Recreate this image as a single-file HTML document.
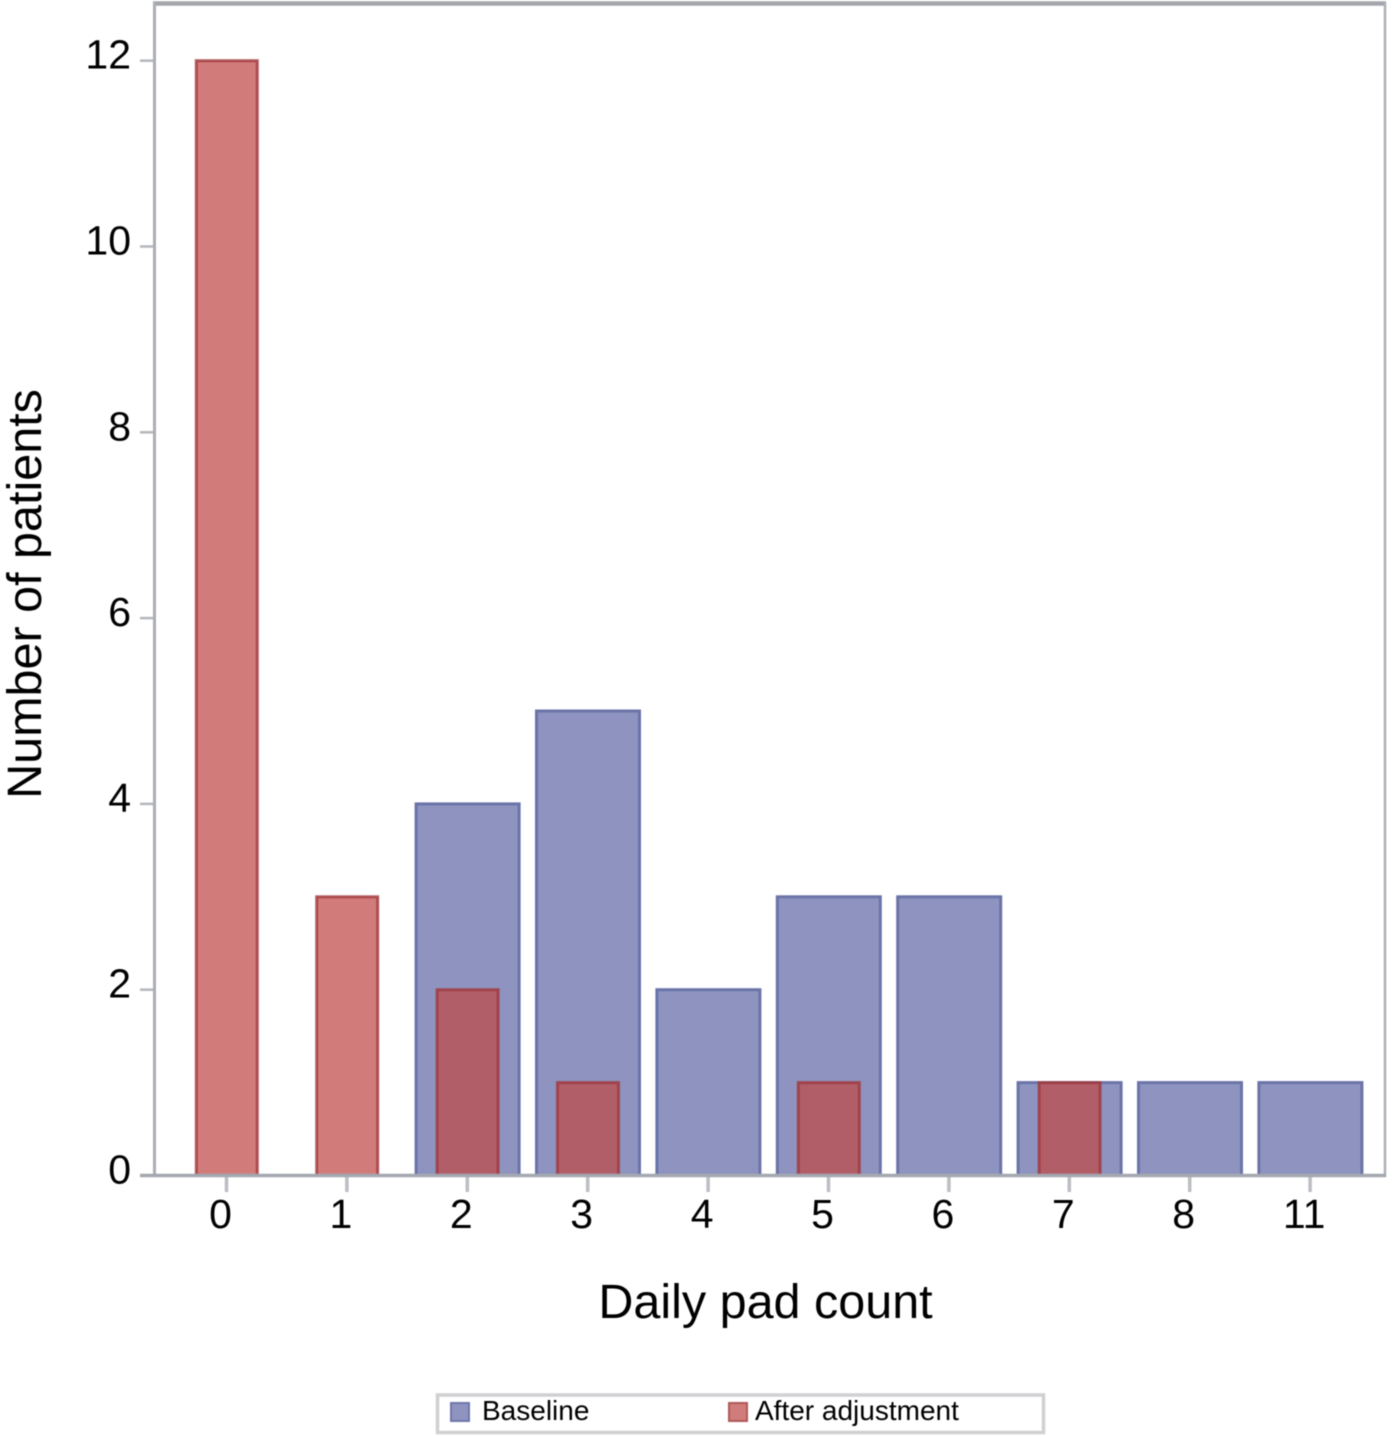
<!DOCTYPE html>
<html>
<head>
<meta charset="utf-8">
<title>Daily pad count chart</title>
<style>
html,body{margin:0;padding:0;background:#fff;}
svg{display:block;filter:blur(0.45px);}
text{font-family:"Liberation Sans",sans-serif;fill:#000;}
</style>
</head>
<body>
<svg id="chart" xmlns="http://www.w3.org/2000/svg" width="1394" height="1436" viewBox="0 0 1394 1436">
  <rect x="0" y="0" width="1394" height="1436" fill="#ffffff"/>
  <g id="bars"></g>
  <g id="axes"></g>
  <line x1="153" y1="3.5" x2="1386" y2="3.5" stroke="#a4a6ad" stroke-width="4.5"/>
  <line x1="154.5" y1="2" x2="154.5" y2="1177" stroke="#aaadb5" stroke-width="3"/>
  <line x1="1385" y1="2" x2="1385" y2="1177" stroke="#aeb0b6" stroke-width="2.5"/>
  <line x1="140" y1="1175.5" x2="1386" y2="1175.5" stroke="#a4a8b0" stroke-width="3.5"/>
  <text transform="translate(41,594) rotate(-90)" text-anchor="middle" font-size="48.5">Number of patients</text>
  <text x="765.5" y="1318" text-anchor="middle" font-size="48.5">Daily pad count</text>
  <g>
    <rect x="437.5" y="1395" width="606" height="37.5" fill="#ffffff" stroke="#d0d0d2" stroke-width="3.5"/>
    <rect x="451" y="1403" width="18" height="18" fill="#8e94bf" stroke="#6f78aa" stroke-width="2"/>
    <text x="482" y="1420" font-size="28">Baseline</text>
    <rect x="729" y="1403" width="18" height="18" fill="#d17c7a" stroke="#b0585a" stroke-width="2"/>
    <text x="755" y="1420" font-size="28">After adjustment</text>
  </g>
</svg>
<script>
const categories = ['0', '1', '2', '3', '4', '5', '6', '7', '8', '11'];
const baselineValues = [0, 0, 4, 5, 2, 3, 3, 1, 1, 1];
const afterAdjustmentValues = [12, 3, 2, 1, 0, 1, 0, 1, 0, 0];
const yTickLabels = [0, 2, 4, 6, 8, 10, 12];

const svgNS = 'http://www.w3.org/2000/svg';
const barsGroup = document.getElementById('bars');
const axesGroup = document.getElementById('axes');

function xCenter(index) {
  return 226.5 + index * 120.4;
}
function yPos(value) {
  return 1175.5 - value * 92.9;
}
function make(tag, attrs, parent) {
  const el = document.createElementNS(svgNS, tag);
  Object.keys(attrs).forEach(function (k) { el.setAttribute(k, attrs[k]); });
  parent.appendChild(el);
  return el;
}
function drawBar(index, value, width, fill, stroke) {
  const cx = xCenter(index);
  const top = yPos(value);
  return make('rect', {
    x: cx - width / 2 + 0.3,
    y: top,
    width: width,
    height: yPos(0) - top,
    fill: fill,
    stroke: stroke,
    'stroke-width': 3
  }, barsGroup);
}

baselineValues.forEach(function (value, i) {
  if (value <= 0) return;
  const bar = drawBar(i, value, 103, '#8e94bf', '#6a74a8');
  
  
});

afterAdjustmentValues.forEach(function (value, i) {
  if (value <= 0) return;
  const bar = drawBar(i, value, 61, 'rgba(191,73,70,0.72)', 'rgba(160,55,60,0.8)');
  
  
});

categories.forEach(function (label, i) {
  const tick = make('line', {
    x1: xCenter(i), y1: 1177, x2: xCenter(i), y2: 1192,
    stroke: '#bcbec3', 'stroke-width': 3.5
  }, axesGroup);
  
  
  const text = make('text', {
    x: xCenter(i) - 6, y: 1228, 'text-anchor': 'middle', 'font-size': 41
  }, axesGroup);
  text.textContent = label;
  
  
});

yTickLabels.forEach(function (value) {
  const tick = make('line', {
    x1: 140, y1: yPos(value), x2: 154, y2: yPos(value),
    stroke: '#b4b6bb', 'stroke-width': 2.5
  }, axesGroup);
  
  
  const text = make('text', {
    x: 131, y: yPos(value) + 8, 'text-anchor': 'end', 'font-size': 41
  }, axesGroup);
  text.textContent = value;
  
  
});
</script>
</body>
</html>
